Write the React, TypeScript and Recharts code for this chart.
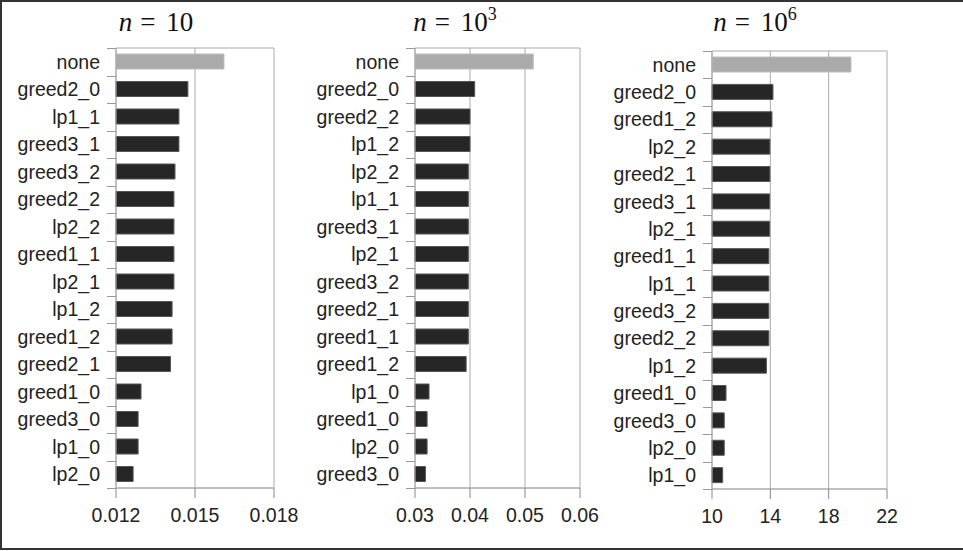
import * as React from "react";
import { BarChart, Bar, XAxis, YAxis, CartesianGrid, Cell } from "recharts";

// n = 10
const names10 = ["none", "greed2_0", "lp1_1", "greed3_1", "greed3_2", "greed2_2", "lp2_2", "greed1_1", "lp2_1", "lp1_2", "greed1_2", "greed2_1", "greed1_0", "greed3_0", "lp1_0", "lp2_0"];
const values10 = [0.0161, 0.01473, 0.01439, 0.01439, 0.01424, 0.0142, 0.0142, 0.0142, 0.0142, 0.01413, 0.01413, 0.01407, 0.01295, 0.01284, 0.01284, 0.01265];
const ticks10 = [0.012, 0.015, 0.018];

// n = 10^3
const names1k = ["none", "greed2_0", "greed2_2", "lp1_2", "lp2_2", "lp1_1", "greed3_1", "lp2_1", "greed3_2", "greed2_1", "greed1_1", "greed1_2", "lp1_0", "greed1_0", "lp2_0", "greed3_0"];
const values1k = [0.0515, 0.04085, 0.04, 0.04, 0.0397, 0.0397, 0.0397, 0.0397, 0.0397, 0.0397, 0.0397, 0.0393, 0.03255, 0.0322, 0.0322, 0.0319];
const ticks1k = [0.03, 0.04, 0.05, 0.06];

// n = 10^6
const names1m = ["none", "greed2_0", "greed1_2", "lp2_2", "greed2_1", "greed3_1", "lp2_1", "greed1_1", "lp1_1", "greed3_2", "greed2_2", "lp1_2", "greed1_0", "greed3_0", "lp2_0", "lp1_0"];
const values1m = [19.53, 14.18, 14.11, 13.97, 13.97, 13.95, 13.95, 13.9, 13.9, 13.9, 13.9, 13.73, 10.96, 10.84, 10.84, 10.73];
const ticks1m = [10, 14, 18, 22];

const H = 551;

type PanelProps = {
  names: string[];
  values: number[];
  ticks: number[];
  left: number;
  width: number;
  yWidth: number;
  plotTop: number;
  plotBottom: number;
  rightMargin: number;
  titleCenter: number;
  sup?: string;
};

function Panel(p: PanelProps) {
  const data = p.names.map((name, i) => ({ name, value: p.values[i] }));
  const band = (p.plotBottom - p.plotTop) / p.names.length;
  const last = p.names.length - 1;

  // category ticks sit on the band edges, labels in the middle
  const renderTick = (props: any) => {
    const { x, y, payload, index } = props;
    const ax = Number(x);
    const cy = Number(y);
    return (
      <g>
        <rect x={ax - 9} y={Math.round(cy - band / 2)} width={9} height={1} fill="#999" />
        {index === last && <rect x={ax - 9} y={Math.round(cy + band / 2)} width={9} height={1} fill="#999" />}
        <text x={ax - 16} y={cy} dy="0.36em" textAnchor="end" fontSize={19.5} fill="#222">
          {payload.value}
        </text>
      </g>
    );
  };

  return (
    <>
      <div
        style={{
          position: "absolute",
          left: p.titleCenter - 100,
          top: 9,
          width: 200,
          textAlign: "center",
          fontFamily: "'Liberation Serif', serif",
          fontSize: 27,
          lineHeight: "27px",
          color: "#111",
        }}
      >
        <i>n</i>
        <span style={{ margin: "0 0.4em 0 0.3em" }}>=</span>10
        {p.sup && <span style={{ fontSize: 18, position: "relative", top: -11 }}>{p.sup}</span>}
      </div>
      <div style={{ position: "absolute", left: p.left, top: 0 }}>
        <BarChart
          width={p.width}
          height={H}
          data={data}
          layout="vertical"
          margin={{ top: p.plotTop, right: p.rightMargin, left: 0, bottom: 0 }}
          barCategoryGap={0}
        >
          <CartesianGrid
            stroke="#aaa"
            horizontalCoordinatesGenerator={({ offset }: any) => [offset.top, offset.top + offset.height]}
          />
          <XAxis
            type="number"
            domain={[p.ticks[0], p.ticks[p.ticks.length - 1]]}
            ticks={p.ticks}
            interval={0}
            height={H - p.plotBottom}
            axisLine={{ stroke: "#aaa" }}
            tickLine={{ stroke: "#888" }}
            tickSize={10}
            tickMargin={10}
            tick={{ fontSize: 19.5, fill: "#222" }}
          />
          <YAxis
            type="category"
            dataKey="name"
            width={p.yWidth}
            interval={0}
            axisLine={{ stroke: "#aaa" }}
            tickLine={false}
            tickSize={0}
            tickMargin={0}
            tick={renderTick}
          />
          <Bar dataKey="value" barSize={15} isAnimationActive={false}>
            {data.map((d) => (
              <Cell
                key={d.name}
                fill={d.name === "none" ? "#aaaaaa" : "#262626"}
                stroke={d.name === "none" ? "#bdbdbd" : "#555"}
                strokeWidth={1}
              />
            ))}
          </Bar>
        </BarChart>
      </div>
    </>
  );
}

export default function App() {
  return (
    <div
      style={{
        position: "absolute",
        left: 0,
        top: 0,
        width: 963,
        height: H,
        background: "#fff",
        fontFamily: "'Liberation Sans', Arial, sans-serif",
        overflow: "hidden",
      }}
    >
      <div
        style={{
          position: "absolute",
          left: 0,
          top: 0,
          width: 963,
          height: 546,
          borderTop: "2px solid #333",
          borderLeft: "2px solid #333",
          borderBottom: "2px solid #333",
        }}
      />
      <Panel names={names10} values={values10} ticks={ticks10} left={0} width={300} yWidth={116} plotTop={48} plotBottom={488} rightMargin={26} titleCenter={156} />
      <Panel names={names1k} values={values1k} ticks={ticks1k} left={300} width={300} yWidth={115} plotTop={48} plotBottom={488} rightMargin={20} titleCenter={455} sup="3" />
      <Panel names={names1m} values={values1m} ticks={ticks1m} left={600} width={363} yWidth={112} plotTop={51} plotBottom={489} rightMargin={76} titleCenter={755} sup="6" />
    </div>
  );
}
